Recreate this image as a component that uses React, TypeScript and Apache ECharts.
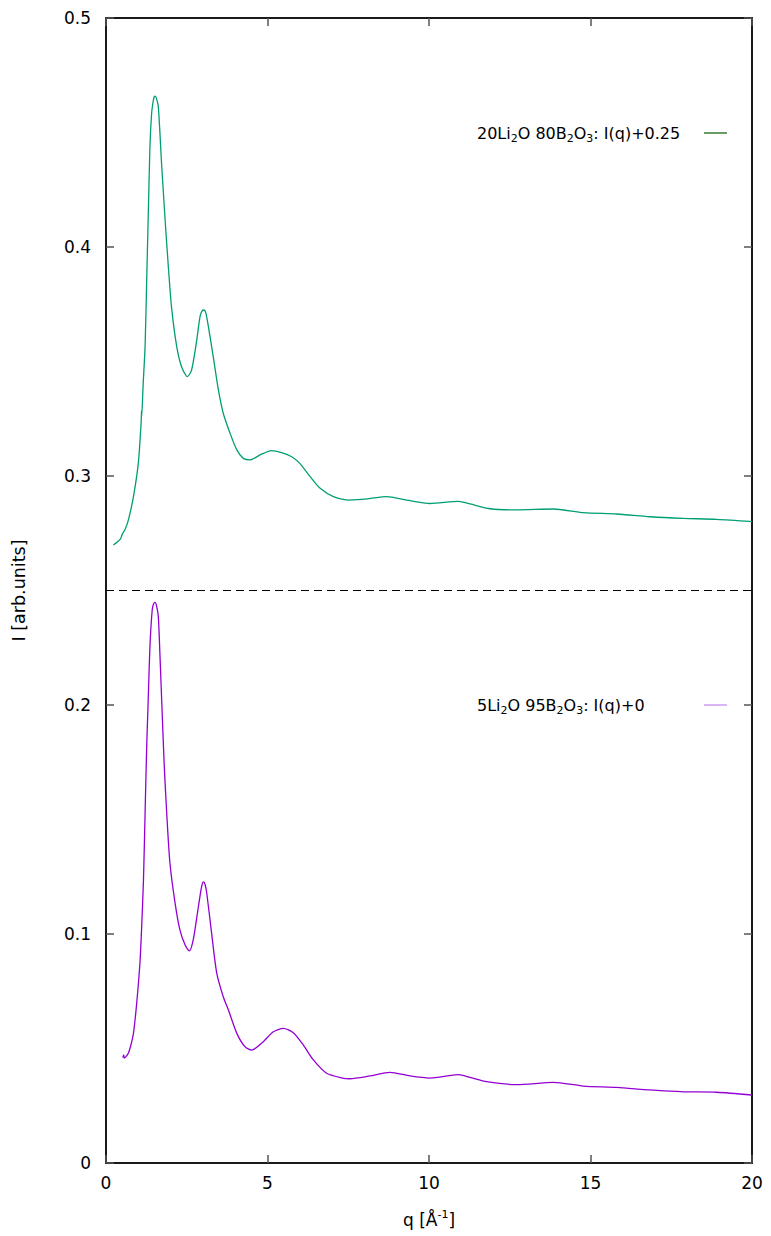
import React, { useEffect, useRef } from "react";
import * as echarts from "echarts";

// 20Li2O 80B2O3, shifted by +0.25
const q20 = [0.23, 0.35, 0.45, 0.5, 0.6, 0.7, 0.85, 1.0, 1.09, 1.1, 1.105, 1.15, 1.21, 1.26, 1.31, 1.36, 1.41, 1.45, 1.49, 1.52, 1.56, 1.62, 1.72, 1.83, 1.93, 2.03, 2.19, 2.34, 2.52, 2.65, 2.81, 2.91, 2.97, 3.03, 3.09, 3.17, 3.32, 3.48, 3.63, 3.84, 4.05, 4.25, 4.46, 4.77, 5.13, 5.44, 5.75, 6.0, 6.32, 6.63, 7.04, 7.55, 8.1, 8.69, 9.31, 10.03, 10.91, 11.27, 11.89, 12.71, 13.85, 14.78, 15.81, 16.84, 17.87, 18.91, 20.0];
const i20 = [0.2699, 0.2712, 0.2725, 0.2745, 0.277, 0.2812, 0.291, 0.3055, 0.324, 0.3285, 0.326, 0.34, 0.3565, 0.3856, 0.4148, 0.4438, 0.458, 0.4627, 0.4655, 0.4659, 0.465, 0.4613, 0.4366, 0.4118, 0.3914, 0.3735, 0.3565, 0.3477, 0.3434, 0.3463, 0.3594, 0.3696, 0.372, 0.3725, 0.3712, 0.3652, 0.3521, 0.3376, 0.3274, 0.3187, 0.3114, 0.3077, 0.307, 0.3092, 0.3111, 0.3102, 0.3084, 0.3055, 0.2997, 0.2946, 0.291, 0.2895, 0.29, 0.291, 0.2895, 0.288, 0.2889, 0.2878, 0.2857, 0.2852, 0.2856, 0.284, 0.2834, 0.2822, 0.2815, 0.2811, 0.2801];

// 5Li2O 95B2O3, shifted by +0
const q5 = [0.52, 0.55, 0.57, 0.69, 0.78, 0.85, 0.95, 1.05, 1.1, 1.16, 1.21, 1.26, 1.31, 1.36, 1.43, 1.47, 1.52, 1.57, 1.62, 1.67, 1.72, 1.8, 1.88, 1.98, 2.14, 2.29, 2.45, 2.58, 2.7, 2.86, 2.96, 3.02, 3.07, 3.12, 3.27, 3.43, 3.63, 3.79, 4.05, 4.3, 4.51, 4.87, 5.18, 5.49, 5.8, 6.11, 6.42, 6.83, 7.35, 7.55, 8.17, 8.79, 9.41, 10.03, 10.91, 11.27, 11.79, 12.71, 13.85, 14.78, 15.81, 16.84, 17.87, 18.91, 20.0];
const i5 = [0.046, 0.0472, 0.0458, 0.0479, 0.052, 0.0566, 0.0697, 0.0872, 0.1017, 0.1236, 0.1527, 0.1818, 0.2036, 0.2255, 0.2415, 0.244, 0.2448, 0.243, 0.2386, 0.222, 0.2036, 0.1745, 0.1527, 0.1309, 0.1134, 0.1017, 0.0952, 0.0926, 0.0974, 0.1119, 0.1207, 0.1228, 0.1215, 0.1178, 0.1003, 0.0828, 0.0726, 0.0668, 0.0566, 0.0508, 0.0493, 0.053, 0.0573, 0.0588, 0.0569, 0.0515, 0.045, 0.0392, 0.037, 0.0368, 0.038, 0.0396, 0.038, 0.0371, 0.0386, 0.0374, 0.0355, 0.0342, 0.0352, 0.0336, 0.033, 0.0319, 0.0311, 0.0309, 0.0297];

const dividerY = 0.25;
const xRange = [0, 20];
const yRange = [0, 0.5];
const xTickStep = 5;
const yTickStep = 0.1;

const FONT = "DejaVu Sans";

export default function App() {
  const ref = useRef<HTMLDivElement>(null);
  useEffect(() => {
    document.body.style.margin = "0";
    const chart = echarts.init(ref.current!, undefined, { renderer: "svg" });
    const rich = {
      sub: { fontSize: 11, lineHeight: 11, verticalAlign: "bottom", fontFamily: FONT, color: "#000" },
      sup: { fontSize: 11, lineHeight: 11, verticalAlign: "top", fontFamily: FONT, color: "#000" },
    };
    const axisLine = { show: true, onZero: false, lineStyle: { color: "#1a1a1a", width: 2 } };
    const tick = { show: true, inside: true, length: 8, lineStyle: { color: "#555", width: 1.5 } };
    const legendText = (text: string, y: number) => ({
      type: "text",
      left: 477,
      top: y - 11,
      style: {
        text,
        fontFamily: FONT,
        fontSize: 16,
        lineHeight: 22,
        fill: "#000",
        rich: {
          sub: { fontSize: 11, lineHeight: 11, verticalAlign: "bottom", fontFamily: FONT, fill: "#000" },
        },
      },
    });
    const curveStyle = { showSymbol: false, symbol: "none", smooth: 0.25 };
    chart.setOption({
      animation: false,
      backgroundColor: "#fff",
      grid: { left: 106, right: 19, top: 18, bottom: 73, containLabel: false },
      xAxis: [
        {
          type: "value",
          min: xRange[0],
          max: xRange[1],
          interval: xTickStep,
          position: "bottom",
          axisLine,
          axisTick: tick,
          splitLine: { show: false },
          axisLabel: { color: "#000", fontSize: 17, fontFamily: FONT, margin: 11 },
          name: "q [Å{sup|-1}]",
          nameLocation: "middle",
          nameGap: 46,
          nameTextStyle: { color: "#000", fontSize: 17, fontFamily: FONT, lineHeight: 22, rich },
        },
        {
          type: "value",
          min: xRange[0],
          max: xRange[1],
          interval: xTickStep,
          position: "top",
          axisLine,
          axisTick: tick,
          splitLine: { show: false },
          axisLabel: { show: false },
        },
      ],
      yAxis: [
        {
          type: "value",
          min: yRange[0],
          max: yRange[1],
          interval: yTickStep,
          position: "left",
          axisLine,
          axisTick: tick,
          splitLine: { show: false },
          axisLabel: {
            color: "#000",
            fontSize: 17,
            fontFamily: FONT,
            margin: 15,
            formatter: (v: number) => (v === 0 ? "0" : v.toFixed(1)),
          },
          name: "I [arb.units]",
          nameLocation: "middle",
          nameRotate: 90,
          nameGap: 78,
          nameTextStyle: { color: "#000", fontSize: 17.5, fontFamily: FONT },
        },
        {
          type: "value",
          min: yRange[0],
          max: yRange[1],
          interval: yTickStep,
          position: "right",
          axisLine,
          axisTick: tick,
          splitLine: { show: false },
          axisLabel: { show: false },
        },
      ],
      series: [
        {
          type: "line",
          name: "20Li2O 80B2O3",
          data: q20.map((q, i) => [q, i20[i]]),
          ...curveStyle,
          lineStyle: { color: "#009e73", width: 1.3 },
          itemStyle: { color: "#009e73" },
        },
        {
          type: "line",
          name: "divider",
          data: [[xRange[0], dividerY], [xRange[1], dividerY]],
          showSymbol: false,
          symbol: "none",
          lineStyle: { color: "#000", width: 1.2, type: [8, 5] },
        },
        {
          type: "line",
          name: "5Li2O 95B2O3",
          data: q5.map((q, i) => [q, i5[i]]),
          ...curveStyle,
          lineStyle: { color: "#9400d3", width: 1.3 },
          itemStyle: { color: "#9400d3" },
        },
      ],
      graphic: [
        legendText("20Li{sub|2}O 80B{sub|2}O{sub|3}: I(q)+0.25", 133),
        { type: "line", shape: { x1: 704, y1: 133, x2: 727, y2: 133 }, style: { stroke: "#1a661a", lineWidth: 1.3 } },
        legendText("5Li{sub|2}O 95B{sub|2}O{sub|3}: I(q)+0", 705),
        { type: "line", shape: { x1: 704, y1: 705, x2: 727, y2: 705 }, style: { stroke: "#c88ef0", lineWidth: 1.3 } },
      ],
    });
    return () => chart.dispose();
  }, []);
  return <div ref={ref} style={{ width: 771, height: 1236 }} />;
}
